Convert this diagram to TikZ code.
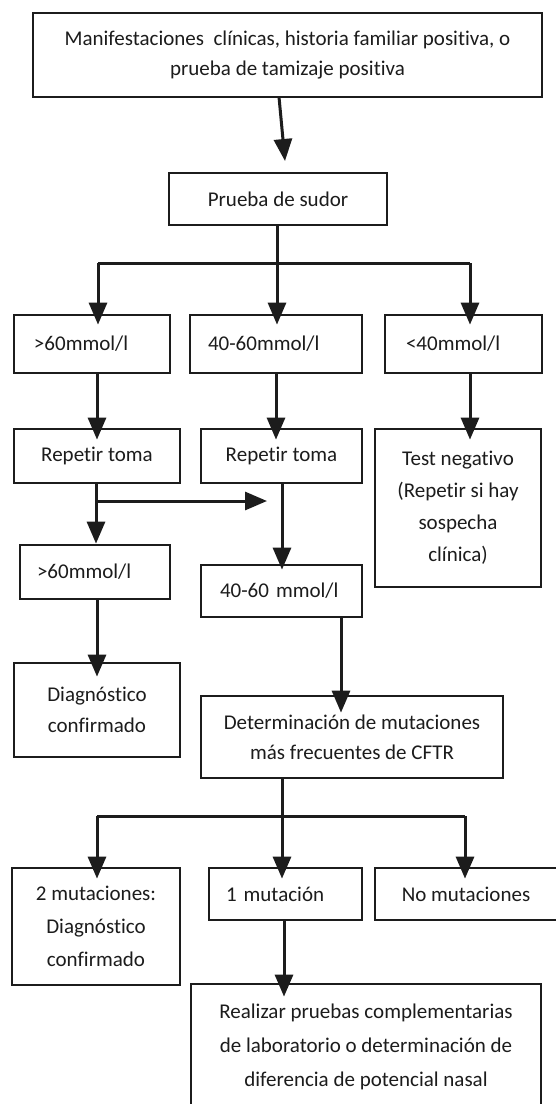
\documentclass[tikz,border=0pt]{standalone}
\usepackage{fontspec}
\setmainfont[Ligatures={NoCommon}]{Carlito}
\usetikzlibrary{arrows.meta}
\definecolor{ink}{HTML}{1C1C1C}
\begin{document}
\begin{tikzpicture}[x=1pt,y=-1pt,
  box/.style={draw=ink, line width=2.8pt, rectangle, inner sep=0pt, text=ink,
    font=\fontsize{21}{27}\selectfont, align=center},
  ln/.style={draw=ink, line width=3pt},
  arr/.style={ln, -{Triangle[length=22pt,width=18pt]}}]
\useasboundingbox (0,0) rectangle (555,1104);
\fill[white] (0,0) rectangle (555,1104);
% boxes: left, top, right, bottom, options, name
\newcommand{\bx}[6]{\node[box, minimum width=#3-#1, minimum height=#4-#2, #5] (#6) at ({(#1+#3)/2},{(#2+#4)/2})}
\bx{33}{13}{542}{97}{font=\fontsize{21}{30}\selectfont}{top} {Manifestaciones\ \ clínicas, historia familiar positiva, o\\prueba de tamizaje positiva};
\bx{169}{173}{387}{225}{}{sudor} {Prueba de sudor};
\bx{14}{315}{170}{373}{text width=116pt, align=left}{a60} {>60mmol/l};
\bx{190}{315}{362}{373}{text width=136pt, align=left}{a4060} {40-60mmol/l};
\bx{385}{315}{542}{373}{text width=115pt, align=left}{a40} {<40mmol/l};
\bx{14}{429}{180}{483}{}{rep1} {Repetir toma};
\bx{201}{429}{362}{483}{}{rep2} {Repetir toma};
\bx{375}{429}{541}{587}{font=\fontsize{21}{32}\selectfont}{neg} {Test negativo\\(Repetir si hay\\sospecha\\clínica)};
\bx{20}{545}{170}{599}{text width=116pt, align=left}{b60} {>60mmol/l};
\bx{201}{565}{362}{617}{text width=123pt, align=left}{b4060} {40-60 mmol/l};
\bx{14}{663}{180}{757}{font=\fontsize{21}{31}\selectfont}{diag} {Diagnóstico\\confirmado};
\bx{201}{696}{503}{778}{font=\fontsize{21}{30}\selectfont}{det} {Determinación de mutaciones\\más frecuentes de CFTR};
\bx{12}{868}{180}{985}{font=\fontsize{21}{33}\selectfont}{mut2} {2 mutaciones:\\Diagnóstico\\confirmado};
\bx{209}{868}{362}{920}{text width=119pt, align=left}{mut1} {1 mutación};
\bx{375}{868}{557}{920}{}{mut0} {No mutaciones};
\bx{191}{984}{541}{1110}{font=\fontsize{21}{34}\selectfont}{real} {Realizar pruebas complementarias\\de laboratorio o determinación de\\diferencia de potencial nasal};
% junctions and arrow ends
\coordinate (t0) at (279,97);
\coordinate (t1) at (285,161);
\coordinate (j1) at (277,263);
\coordinate (j1l) at (98,263);
\coordinate (j1r) at (470,263);
\coordinate (j2) at (96,501);
\coordinate (j2e) at (267,501);
\coordinate (j3) at (282,816);
\coordinate (j3l) at (97,816);
\coordinate (j3r) at (465,816);
% connectors
\draw[arr] (t0) -- (t1);
\draw[ln] (sudor.south -| j1) -- (j1);
\draw[ln] (j1l) -- (j1r);
\draw[arr] (j1l) -- ([yshift=-11pt]j1l |- a60.north);
\draw[arr] (j1) -- ([yshift=-11pt]j1 |- a4060.north);
\draw[arr] (j1r) -- ([yshift=-11pt]j1r |- a40.north);
\draw[arr] (a60.south -| 97,0) -- ([yshift=-12pt]rep1.north -| 97,0);
\draw[arr] (a4060.south -| 276,0) -- ([yshift=-12pt]rep2.north -| 276,0);
\draw[arr] (a40.south -| 470,0) -- ([yshift=-12pt]neg.north -| 470,0);
\draw[arr] (rep1.south -| j2) -- (b60.north -| j2);
\draw[arr] (j2) -- (j2e);
\draw[arr] (rep2.south -| 282,0) -- ([yshift=-6pt]b4060.north -| 282,0);
\draw[arr] (b60.south -| 97,0) -- ([yshift=-15pt]diag.north -| 97,0);
\draw[arr] (b4060.south -| 341,0) -- ([yshift=-18pt]det.north -| 341,0);
\draw[ln] (det.south -| j3) -- (j3);
\draw[ln] (j3l) -- (j3r);
\draw[arr] (j3l) -- ([yshift=-12pt]j3l |- mut2.north);
\draw[arr] (j3) -- ([yshift=-12pt]j3 |- mut1.north);
\draw[arr] (j3r) -- ([yshift=-12pt]j3r |- mut0.north);
\draw[arr] (mut1.south -| 284,0) -- ([yshift=-14pt]real.north -| 284,0);
\end{tikzpicture}
\end{document}
